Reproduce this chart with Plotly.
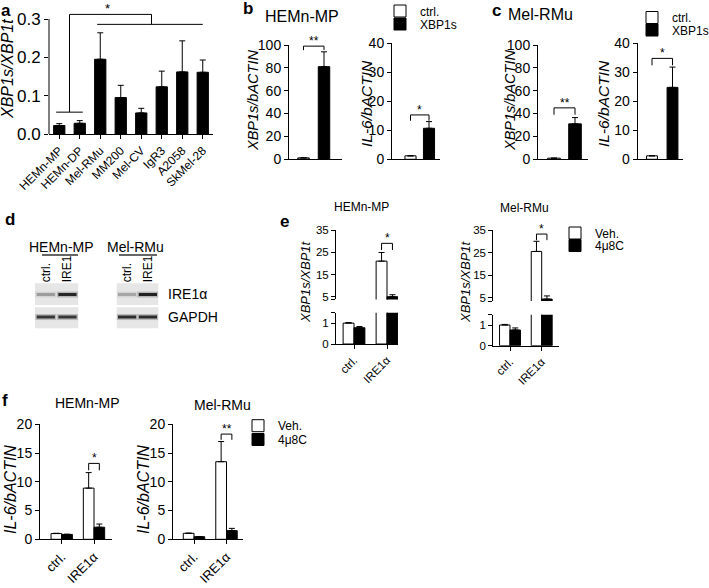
import plotly.graph_objects as go

W, H = 709, 588
FONT = "Liberation Sans, Arial, Helvetica, sans-serif"

# ---------------- data ----------------
a_cells = ["HEMn-MP", "HEMn-DP", "Mel-RMu", "MM200", "Mel-CV", "IgR3", "A2058", "SkMel-28"]
a_ratio = [0.022, 0.028, 0.195, 0.095, 0.055, 0.123, 0.162, 0.161]
a_err = [0.005, 0.007, 0.069, 0.032, 0.012, 0.041, 0.081, 0.032]
a_yticks = [0.0, 0.1, 0.2, 0.3]
a_ref_group = [0, 1]
a_cmp_group = [2, 3, 4, 5, 6, 7]

bc_groups = ["ctrl.", "XBP1s"]
b_xbp1s = [1.0, 81.0]
b_xbp1s_err = [0.0, 13.0]
b_il6 = [1.2, 10.7]
b_il6_err = [0.0, 2.3]
c_xbp1s = [1.0, 31.0]
c_xbp1s_err = [0.0, 5.5]
c_il6 = [1.2, 24.8]
c_il6_err = [0.0, 7.0]

conds = ["ctrl.", "IRE1α"]
treats = ["Veh.", "4μ8C"]
e_hem_veh = [1.0, 21.0]
e_hem_veh_err = [0.03, 3.9]
e_hem_inh = [0.78, 5.0]
e_hem_inh_err = [0.06, 0.9]
e_mel_veh = [1.0, 25.5]
e_mel_veh_err = [0.03, 4.5]
e_mel_inh = [0.76, 4.4]
e_mel_inh_err = [0.1, 1.4]
e_low_ticks = [0, 1]
e_up_ticks = [5, 15, 25, 35]

f_hem_veh = [1.0, 8.9]
f_hem_veh_err = [0.05, 2.7]
f_hem_inh = [0.85, 2.1]
f_hem_inh_err = [0.03, 0.55]
f_mel_veh = [1.04, 13.5]
f_mel_veh_err = [0.03, 3.5]
f_mel_inh = [0.45, 1.5]
f_mel_inh_err = [0.03, 0.4]

blot_lanes = ["ctrl.", "IRE1"]
blot_rows = ["GAPDH", "IRE1α"]
blot_hem_ire1a = [0.35, 0.92]
blot_hem_gapdh = [0.85, 0.85]
blot_mel_ire1a = [0.3, 0.95]
blot_mel_gapdh = [0.9, 0.9]

# ---------------- helpers ----------------
def xdom(l, r):
    return [l / W, r / W]


def ydom(top, bot):
    return [1 - bot / H, 1 - top / H]


def px(x):
    return x / W


def py(y):
    return 1 - y / H


AX = dict(showline=True, linecolor="black", linewidth=1, ticks="outside", ticklen=4,
          tickwidth=1, tickcolor="black", showgrid=False, zeroline=False, fixedrange=True)


def ax(**kw):
    d = dict(AX)
    d.update(kw)
    return d


def err(arr):
    return dict(type="data", array=arr, arrayminus=[0] * len(arr), symmetric=False,
                color="black", thickness=1, width=3, visible=True)


fig = go.Figure()
layout = {}
shapes = []
annos = []


def text(x, y, t, size, **kw):
    d = dict(x=px(x), y=py(y), xref="paper", yref="paper", text=t, showarrow=False,
             font=dict(size=size, family=FONT, color="black"), xanchor="center", yanchor="middle")
    d.update(kw)
    annos.append(d)


def bracket(xa, ya, x0, x1, y, leg, stars, size=12):
    for (xs, ys, xe, ye) in [(x0, y - leg, x0, y), (x0, y, x1, y), (x1, y, x1, y - leg)]:
        shapes.append(dict(type="line", xref=xa, yref=ya, x0=xs, y0=ys, x1=xe, y1=ye,
                           line=dict(color="black", width=1)))
    annos.append(dict(x=(x0 + x1) / 2, y=y, xref=xa, yref=ya, text=stars, showarrow=False,
                      yanchor="bottom", yshift=-4, font=dict(size=size, family=FONT, color="black")))


def legend_at(xtext, ycenter):
    return dict(x=px(xtext - 42), y=py(ycenter), xanchor="left", yanchor="middle",
                bgcolor="rgba(0,0,0,0)", borderwidth=0, itemwidth=30, tracegroupgap=0,
                font=dict(size=12, family=FONT, color="black"))


WHITE = dict(color="white", line=dict(color="black", width=1))
BLACK = dict(color="black", line=dict(color="black", width=1))

# ---------------- panel a ----------------
A_Y0, A_Y3 = 134, 19
A_TOP = A_Y0 - 0.33 * (A_Y0 - A_Y3) / 0.3
layout["xaxis"] = ax(domain=xdom(49, 213), anchor="y", type="category", categoryorder="array",
                     categoryarray=a_cells, range=[-0.5, 7.5], tickangle=-45, tickfont=dict(size=12))
layout["yaxis"] = ax(domain=ydom(A_TOP, A_Y0), anchor="x", range=[0, 0.33], showline=False,
                     tickvals=a_yticks, tickformat=".1f", tickfont=dict(size=17))
shapes.append(dict(type="line", xref="x domain", yref="y domain", x0=0, x1=0, y0=0,
                   y1=max(a_yticks) / 0.33, line=dict(color="black", width=1)))
fig.add_trace(go.Bar(x=a_cells, y=a_ratio, error_y=err(a_err), marker=BLACK, width=0.55,
                     xaxis="x", yaxis="y", showlegend=False))
ref_mid = sum(a_ref_group) / len(a_ref_group)
cmp_mid = sum(a_cmp_group) / len(a_cmp_group)
for (xs, ys, xe, ye) in [(a_ref_group[0] - 0.15, 0.057, a_ref_group[-1] + 0.15, 0.057),
                         (ref_mid, 0.057, ref_mid, 0.312),
                         (ref_mid, 0.312, cmp_mid, 0.312),
                         (cmp_mid, 0.312, cmp_mid, 0.286),
                         (a_cmp_group[0] - 0.15, 0.286, a_cmp_group[-1], 0.286)]:
    shapes.append(dict(type="line", xref="x", yref="y", x0=xs, y0=ys, x1=xe, y1=ye,
                       line=dict(color="black", width=1)))
annos.append(dict(x=(ref_mid + cmp_mid) / 2 - 0.15, y=0.312, xref="x", yref="y", text="*",
                  showarrow=False, yanchor="bottom", yshift=-4, font=dict(size=13, family=FONT)))
text(8, 69, "<i>XBP1s/XBP1t</i>", 16, textangle=-90)
text(6, 10, "<b>a</b>", 17)

# ---------------- panels b & c ----------------
def pair_panel(n, xl, xr, c0, unit, top, bot, ymax, dtick, vals, errs, bw, legs, show, br_y, br_leg, stars):
    layout[f"xaxis{n}"] = ax(domain=xdom(xl, xr), anchor=f"y{n}", type="category",
                             categoryarray=bc_groups, range=[(xl - c0) / unit, (xr - c0) / unit],
                             showticklabels=False, ticks="")
    layout[f"yaxis{n}"] = ax(domain=ydom(top, bot), anchor=f"x{n}", range=[0, ymax], dtick=dtick,
                             tickfont=dict(size=14))
    for i, mk in enumerate([WHITE, BLACK]):
        fig.add_trace(go.Bar(x=[bc_groups[i]], y=[vals[i]], error_y=err([errs[i]]), marker=mk,
                             width=bw, name=bc_groups[i], xaxis=f"x{n}", yaxis=f"y{n}",
                             showlegend=show, legend=legs[i]))
    bracket(f"x{n}", f"y{n}", 0, 1, br_y, br_leg, stars)


pair_panel(2, 289, 342, 303.5, 20.5, 45, 159, 100, 20, b_xbp1s, b_xbp1s_err, 0.56,
           ["legend", "legend2"], True, 99, 3.5, "**")
pair_panel(3, 392, 440, 410.5, 18.5, 43.3, 159.3, 40, 10, b_il6, b_il6_err, 0.6,
           ["legend", "legend2"], False, 15.3, 2.0, "*")
pair_panel(4, 538, 588, 554, 21, 45, 159.3, 100, 20, c_xbp1s, c_xbp1s_err, 0.6,
           ["legend3", "legend4"], True, 45, 6.0, "**")
pair_panel(5, 637.7, 683, 652, 20.5, 43.3, 159.3, 40, 10, c_il6, c_il6_err, 0.53,
           ["legend3", "legend4"], False, 34.8, 2.4, "*")
text(253, 101, "<i>XBP1s/bACTIN</i>", 14.5, textangle=-90)
text(367, 104, "<i>IL-6/bACTIN</i>", 15.5, textangle=-90)
text(510, 101, "<i>XBP1s/bACTIN</i>", 14.5, textangle=-90)
text(604, 104, "<i>IL-6/bACTIN</i>", 15.5, textangle=-90)
text(302, 16, "HEMn-MP", 16)
text(540, 14, "Mel-RMu", 16)
text(248, 9, "<b>b</b>", 17)
text(496, 10, "<b>c</b>", 17)

# ---------------- panel d (western blot) ----------------
def band_color(v, light=False):
    g = int(round(228 - (110 if light else 205) * v))
    return f"rgb({g},{g},{g})"


def blot(n, xl, xr, ire1a, gapdh, right_labels):
    layout[f"xaxis{n}"] = dict(domain=xdom(xl, xr), anchor=f"y{n}", type="category",
                               categoryarray=blot_lanes, range=[-0.5, 1.5], side="top",
                               showline=False, showgrid=False, zeroline=False, ticks="",
                               tickangle=-90, tickfont=dict(size=12), fixedrange=True)
    layout[f"yaxis{n}"] = dict(domain=ydom(283.3, 328.3), anchor=f"x{n}", type="category",
                               categoryarray=blot_rows, range=[-0.5, 1.5], side="right",
                               showline=False, showgrid=False, zeroline=False,
                               showticklabels=right_labels, ticks="outside", ticklen=6,
                               tickcolor="rgba(0,0,0,0)", tickfont=dict(size=14), fixedrange=True)
    for (y0, y1) in [(0.0, 0.467), (0.518, 1.0)]:
        shapes.append(dict(type="rect", xref=f"x{n} domain", yref=f"y{n} domain", x0=0, x1=1,
                           y0=y0, y1=y1, fillcolor="#e6e6e6", line=dict(width=0), layer="below"))
    for row, vals in [("IRE1α", ire1a), ("GAPDH", gapdh)]:
        halo = [band_color(v, True) for v in vals]
        core = [band_color(v) for v in vals]
        fig.add_trace(go.Scatter(x=blot_lanes, y=[row] * len(vals), mode="markers",
                                 marker=dict(symbol="line-ew", size=15, color=halo,
                                             line=dict(width=6, color=halo)),
                                 opacity=0.45, xaxis=f"x{n}", yaxis=f"y{n}", showlegend=False,
                                 hoverinfo="skip"))
        fig.add_trace(go.Scatter(x=blot_lanes, y=[row] * len(vals), mode="markers",
                                 marker=dict(symbol="line-ew", size=13, color=core,
                                             line=dict(width=3, color=core)),
                                 xaxis=f"x{n}", yaxis=f"y{n}", showlegend=False, hoverinfo="skip"))


blot(6, 35, 78.3, blot_hem_ire1a, blot_hem_gapdh, False)
blot(7, 116.7, 158.3, blot_mel_ire1a, blot_mel_gapdh, True)
text(61.5, 247, "HEMn-MP", 14)
text(135.5, 247, "Mel-RMu", 14)
for (l, r) in [(42, 78), (119, 157)]:
    shapes.append(dict(type="line", xref="paper", yref="paper", x0=px(l), x1=px(r), y0=py(255),
                       y1=py(255), line=dict(color="#333333", width=1.5)))
text(10, 220, "<b>d</b>", 17)

# ---------------- panel e (broken axes) ----------------
BW = 0.33


def broken(xn, yln, yun, xl, xr, c0, unit, lo_top, lo_bot, up_top, up_bot, up_min,
           veh, veh_e, inh, inh_e, show, br_y, br_leg, fs=11.5):
    layout[f"xaxis{xn}"] = ax(domain=xdom(xl, xr), anchor=f"y{yln}", type="category",
                              categoryarray=conds, range=[(xl - c0) / unit, (xr - c0) / unit],
                              tickangle=-45, tickfont=dict(size=fs))
    layout[f"yaxis{yln}"] = ax(domain=ydom(lo_top, lo_bot), anchor=f"x{xn}", range=[0, 1.5],
                               tickvals=e_low_ticks + [1.5],
                               ticktext=[str(t) for t in e_low_ticks] + [""], tickfont=dict(size=fs))
    layout[f"yaxis{yun}"] = ax(domain=ydom(up_top, up_bot), anchor=f"x{xn}", range=[up_min, 35],
                               tickvals=[up_min] + e_up_ticks,
                               ticktext=[""] + [str(t) for t in e_up_ticks], tickfont=dict(size=fs))
    for k, ya in enumerate([yln, yun]):
        fig.add_trace(go.Bar(x=conds, y=veh, error_y=err(veh_e), marker=WHITE, width=BW, offset=-BW,
                             name=treats[0], xaxis=f"x{xn}", yaxis=f"y{ya}",
                             showlegend=(show and k == 0), legend="legend5"))
        fig.add_trace(go.Bar(x=conds, y=inh, error_y=err(inh_e), marker=BLACK, width=BW, offset=0,
                             name=treats[1], xaxis=f"x{xn}", yaxis=f"y{ya}",
                             showlegend=(show and k == 0), legend="legend6"))
    bracket(f"x{xn}", f"y{yun}", 1 - BW / 2, 1 + BW / 2, br_y, br_leg, "*")


broken(8, 8, 9, 336, 398, 354, 33, 312.7, 344, 230, 299.4, 3.8,
       e_hem_veh, e_hem_veh_err, e_hem_inh, e_hem_inh_err, True, 29, 3.0)
broken(10, 10, 11, 493.3, 559.3, 510, 31.7, 314.7, 345.7, 230, 301.1, 3.5,
       e_mel_veh, e_mel_veh_err, e_mel_inh, e_mel_inh_err, False, 33.2, 2.7)
text(305, 282, "<i>XBP1s/XBP1t</i>", 13, textangle=-90)
text(465, 282, "<i>XBP1s/XBP1t</i>", 13, textangle=-90)
text(361, 207, "HEMn-MP", 12)
text(524, 208, "Mel-RMu", 12)
text(284, 222, "<b>e</b>", 17)

# ---------------- panel f ----------------
def fpanel(n, xl, xr, c0, unit, veh, veh_e, inh, inh_e, show, br_y, br_leg, stars):
    layout[f"xaxis{n}"] = ax(domain=xdom(xl, xr), anchor=f"y{n}", type="category",
                             categoryarray=conds, range=[(xl - c0) / unit, (xr - c0) / unit],
                             tickangle=-45, tickfont=dict(size=13))
    layout[f"yaxis{n}"] = ax(domain=ydom(424.3, 539.3), anchor=f"x{n}", range=[0, 20], dtick=5,
                             tickfont=dict(size=14))
    fig.add_trace(go.Bar(x=conds, y=veh, error_y=err(veh_e), marker=WHITE, width=BW, offset=-BW,
                         name=treats[0], xaxis=f"x{n}", yaxis=f"y{n}", showlegend=show,
                         legend="legend7"))
    fig.add_trace(go.Bar(x=conds, y=inh, error_y=err(inh_e), marker=BLACK, width=BW, offset=0,
                         name=treats[1], xaxis=f"x{n}", yaxis=f"y{n}", showlegend=show,
                         legend="legend8"))
    bracket(f"x{n}", f"y{n}", 1 - BW / 2, 1 + BW / 2, br_y, br_leg, stars)


fpanel(12, 40, 111.7, 61.7, 32.3, f_hem_veh, f_hem_veh_err, f_hem_inh, f_hem_inh_err,
       False, 13.2, 1.2, "*")
fpanel(13, 173, 243, 194, 32.5, f_mel_veh, f_mel_veh_err, f_mel_inh, f_mel_inh_err,
       True, 18.3, 1.0, "**")
text(10, 490, "<i>IL-6/bACTIN</i>", 16, textangle=-90)
text(143, 490, "<i>IL-6/bACTIN</i>", 16, textangle=-90)
text(87.5, 403, "HEMn-MP", 14)
text(222.7, 405, "Mel-RMu", 14)
text(5, 400, "<b>f</b>", 17)

# ---------------- legends ----------------
layout["legend"] = legend_at(422, 11)
layout["legend2"] = legend_at(422, 24)
layout["legend3"] = legend_at(674, 17.5)
layout["legend4"] = legend_at(674, 30)
layout["legend5"] = legend_at(597, 233)
layout["legend6"] = legend_at(597, 245.5)
layout["legend7"] = legend_at(280, 425.7)
layout["legend8"] = legend_at(280, 439.5)

fig.update_layout(
    width=W, height=H, margin=dict(l=0, r=0, t=0, b=0, autoexpand=False),
    paper_bgcolor="white", plot_bgcolor="white", barmode="overlay",
    font=dict(family=FONT, color="black", size=12), showlegend=True,
    shapes=shapes, annotations=annos, **layout,
)
fig.write_html("out.html", config={"displayModeBar": False},
               post_script="document.body.style.margin='0px';document.body.style.overflow='hidden';")
